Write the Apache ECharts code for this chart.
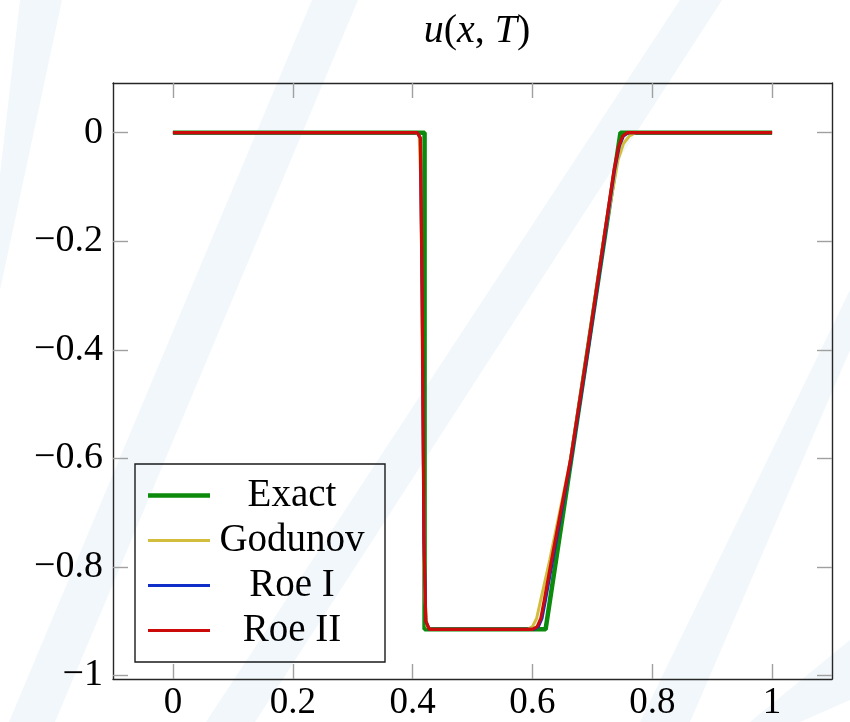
<!DOCTYPE html>
<html>
<head>
<meta charset="utf-8">
<script src="https://cdn.jsdelivr.net/npm/echarts@6/dist/echarts.min.js"></script>
<style>html,body{margin:0;padding:0;background:#fff;}#c{width:850px;height:722px;}</style>
</head>
<body>
<div id="c"></div>
<script>
// ---- data ----
const seriesNames = ['Exact', 'Godunov', 'Roe I', 'Roe II'];
const exactX = [0, 0.42, 0.42, 0.622, 0.747, 1];
const exactU = [0, 0, -0.915, -0.915, 0, 0];
const godunovX = [0, 0.405, 0.411, 0.414, 0.417, 0.42, 0.424, 0.43, 0.592, 0.6, 0.607, 0.614, 0.629, 0.664, 0.692, 0.72, 0.734, 0.743, 0.752, 0.762, 0.772, 1];
const godunovU = [0, 0, -0.005, -0.1, -0.5, -0.85, -0.91, -0.915, -0.915, -0.91, -0.895, -0.86, -0.787, -0.6, -0.4, -0.19, -0.107, -0.05, -0.02, -0.006, 0, 0];
const roe1X = [0, 0.408, 0.413, 0.416, 0.419, 0.422, 0.428, 0.602, 0.61, 0.616, 0.622, 0.634, 0.665, 0.693, 0.721, 0.737, 0.745, 0.752, 0.76, 1];
const roe1U = [0, 0, -0.01, -0.3, -0.75, -0.9, -0.915, -0.915, -0.91, -0.895, -0.86, -0.787, -0.6, -0.4, -0.19, -0.07, -0.025, -0.006, 0, 0];
const roe2X = [0, 0.408, 0.413, 0.416, 0.419, 0.422, 0.428, 0.6, 0.608, 0.614, 0.62, 0.632, 0.664, 0.692, 0.72, 0.736, 0.744, 0.751, 0.758, 1];
const roe2U = [0, 0, -0.01, -0.3, -0.75, -0.9, -0.915, -0.915, -0.91, -0.895, -0.86, -0.787, -0.6, -0.4, -0.19, -0.07, -0.025, -0.006, 0, 0];
const xTicks = [0, 0.2, 0.4, 0.6, 0.8, 1];
const yTicks = [-1, -0.8, -0.6, -0.4, -0.2, 0];
const xMin = -0.1, xMax = 1.1;
const yMin = -1.0065, yMax = 0.0915;

const pairs = (xs, us) => xs.map((x, i) => [x, us[i]]);
const fmt = v => v === 0 ? '0' : (v < 0 ? '\u2212' : '') + String(Math.abs(+v.toFixed(2)));

const FONT = 'Liberation Serif';
const stripe = '#f1f7fa';
const stripes = [
  [[20,0],[62,0],[0,290],[0,175]],
  [[312,0],[358,0],[55,722],[9,722]],
  [[680,0],[722,0],[255,722],[206,722]],
  [[850,290],[850,350],[690,722],[640,722]],
  [[850,640],[850,700],[800,722],[750,722]]
];
const colors = ['#0b8a0b', '#d2bd3c', '#0f2fc8', '#cc0a0a'];
const widths = [4.5, 3, 3, 3.2];
// legend icons: horizontal bar centred in a 62x36 box
const icon = w => 'path://M0,0L0.01,0L0.01,0.01L0,0.01ZM0,' + (18 - w / 2) + 'L62,' + (18 - w / 2) + 'L62,' + (18 + w / 2) + 'L0,' + (18 + w / 2) + 'ZM61.99,35.99L62,35.99L62,36L61.99,36Z';

const chart = echarts.init(document.getElementById('c'), null, {renderer: 'canvas'});
const axisLine = {show: true, onZero: false, lineStyle: {color: '#262626', width: 1.4}};
const tick = vals => ({show: true, inside: true, length: 15, customValues: vals, lineStyle: {color: '#a0a0a0', width: 1.4}});

chart.setOption({
  animation: false,
  backgroundColor: '#fff',
  graphic: stripes.map(p => ({type: 'polygon', silent: true, z: -10, shape: {points: p}, style: {fill: stripe}})),
  title: {
    text: '{i|u}{r|(}{i|x}{r|, }{i|T}{r|)}',
    left: 472, top: 6, textAlign: 'center',
    textStyle: {
      fontWeight: 'normal',
      rich: {
        i: {fontFamily: FONT, fontStyle: 'italic', fontWeight: 'normal', fontSize: 40, color: '#000'},
        r: {fontFamily: FONT, fontWeight: 'normal', fontSize: 40, color: '#000'}
      }
    }
  },
  grid: {left: 113, right: 18, top: 83, bottom: 43, containLabel: false},
  xAxis: [
    {type: 'value', min: xMin, max: xMax, position: 'bottom', axisLine: axisLine, splitLine: {show: false},
     axisTick: tick(xTicks),
     axisLabel: {customValues: xTicks, formatter: fmt, fontFamily: FONT, fontSize: 37, color: '#000', margin: 6}},
    {type: 'value', min: xMin, max: xMax, position: 'top', axisLine: axisLine, splitLine: {show: false},
     axisTick: tick(xTicks), axisLabel: {show: false}}
  ],
  yAxis: [
    {type: 'value', min: yMin, max: yMax, position: 'left', axisLine: axisLine, splitLine: {show: false},
     axisTick: tick(yTicks),
     axisLabel: {customValues: yTicks, formatter: fmt, fontFamily: FONT, fontSize: 38, color: '#000', margin: 10}},
    {type: 'value', min: yMin, max: yMax, position: 'right', axisLine: axisLine, splitLine: {show: false},
     axisTick: tick(yTicks), axisLabel: {show: false}}
  ],
  legend: {
    orient: 'vertical', left: 135, top: 464,
    padding: [12, 16, 12, 13], itemGap: 6,
    itemWidth: 62, itemHeight: 36,
    backgroundColor: 'rgba(255,255,255,0)', borderColor: '#1a1a1a', borderWidth: 1.4,
    itemStyle: {borderWidth: 0},
    data: seriesNames.map((n, i) => ({name: n, icon: icon(widths[i]), itemStyle: {color: colors[i], borderWidth: 0}})),
    formatter: n => '{t|' + n + '}',
    textStyle: {rich: {t: {fontFamily: FONT, fontSize: 39, color: '#000', width: 154, align: 'center', height: 36, lineHeight: 36}}}
  },
  series: seriesNames.map((n, i) => ({
    name: n, type: 'line', symbol: 'none', showSymbol: false, z: 2 + i,
    data: [pairs(exactX, exactU), pairs(godunovX, godunovU), pairs(roe1X, roe1U), pairs(roe2X, roe2U)][i],
    color: colors[i], lineStyle: {width: widths[i], color: colors[i]}
  }))
});
</script>
</body>
</html>
